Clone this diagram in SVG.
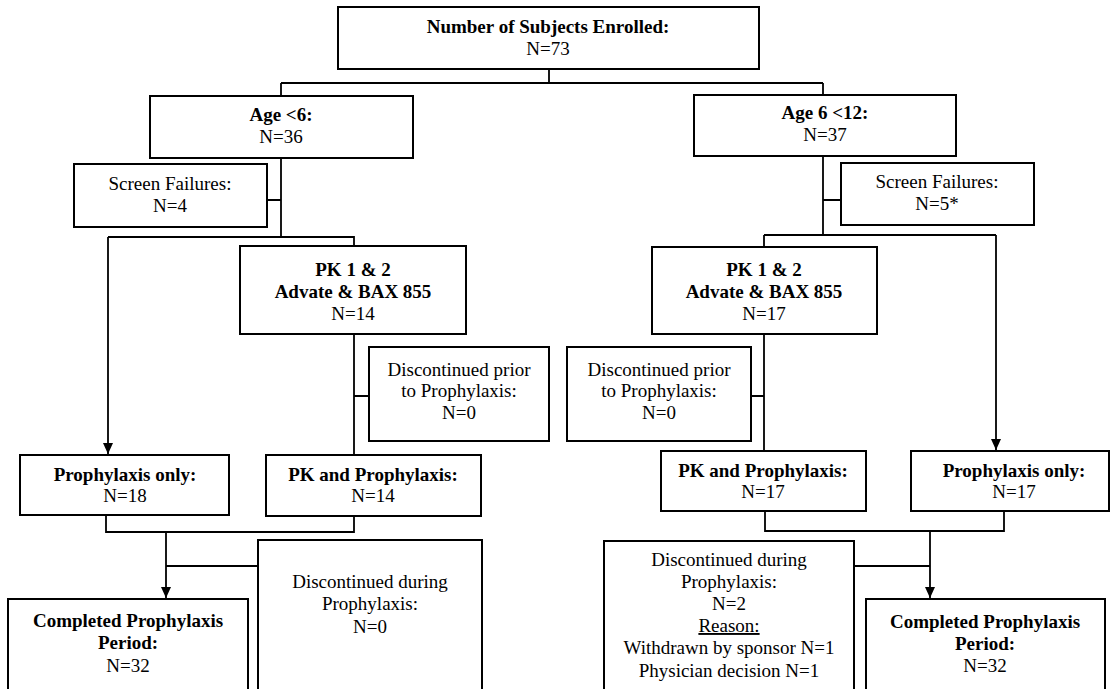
<svg xmlns="http://www.w3.org/2000/svg" width="1110" height="689" viewBox="0 0 1110 689">
<style>
.box{fill:#fff;stroke:#000;stroke-width:2}
.ln{fill:none;stroke:#000;stroke-width:1.8}
text{font-family:"Liberation Serif","Times New Roman",serif;font-size:19px;fill:#000;text-anchor:middle}
.b{font-weight:bold}
</style>
<defs>
<marker id="ah" viewBox="0 0 11 10" refX="11" refY="5" markerWidth="11" markerHeight="10" markerUnits="userSpaceOnUse" orient="auto">
<path d="M0,0 L11,5 L0,10 z" fill="#000"/>
</marker>
</defs>
<rect width="1110" height="689" fill="#fff"/>
<g id="connectors">
<path class="ln" d="M549,69 V83 M281,83 H823 M281,83 V96 M823,83 V95"/>
<path class="ln" d="M281,158 V237 M267,200 H281 M108,237 H354 V246"/>
<path class="ln" d="M108,237 V454" marker-end="url(#ah)"/>
<path class="ln" d="M823,156 V235 M823,200 H841 M764,235 H996"/>
<path class="ln" d="M764,235 V247"/>
<path class="ln" d="M996,235 V450" marker-end="url(#ah)"/>
<path class="ln" d="M354,334 V455 M354,396 H369"/>
<path class="ln" d="M764,334 V451 M751,396 H764"/>
<path class="ln" d="M106,515 V532 H354 V516"/>
<path class="ln" d="M166,532 V598" marker-end="url(#ah)"/>
<path class="ln" d="M166,566 H258"/>
<path class="ln" d="M765,511 V531 H1004 V511"/>
<path class="ln" d="M930,531 V598" marker-end="url(#ah)"/>
<path class="ln" d="M854,566 H930"/>
</g>
<g id="enrolled">
<rect class="box" x="338" y="7" width="421" height="62"/>
<text x="548" y="33" class="b">Number of Subjects Enrolled:</text>
<text x="548" y="55">N=73</text>
</g>
<g id="age-lt6">
<rect class="box" x="150" y="96" width="263" height="62"/>
<text x="281" y="121" class="b">Age &lt;6:</text>
<text x="281" y="143">N=36</text>
</g>
<g id="age-6-12">
<rect class="box" x="694" y="95" width="262" height="61"/>
<text x="825" y="119" class="b">Age 6 &lt;12:</text>
<text x="825" y="141">N=37</text>
</g>
<g id="screen-fail-left">
<rect class="box" x="74" y="164" width="193" height="63"/>
<text x="170" y="190">Screen Failures:</text>
<text x="170" y="212">N=4</text>
</g>
<g id="screen-fail-right">
<rect class="box" x="841" y="163" width="193" height="62"/>
<text x="937" y="188">Screen Failures:</text>
<text x="937" y="210">N=5*</text>
</g>
<g id="pk-left">
<rect class="box" x="240" y="246" width="226" height="88"/>
<text x="353" y="276" class="b">PK 1 &amp; 2</text>
<text x="353" y="298" class="b">Advate &amp; BAX 855</text>
<text x="353" y="320">N=14</text>
</g>
<g id="pk-right">
<rect class="box" x="652" y="247" width="225" height="87"/>
<text x="764" y="276" class="b">PK 1 &amp; 2</text>
<text x="764" y="298" class="b">Advate &amp; BAX 855</text>
<text x="764" y="320">N=17</text>
</g>
<g id="disc-prior-left">
<rect class="box" x="369" y="347" width="180" height="94"/>
<text x="459" y="376">Discontinued prior</text>
<text x="459" y="397">to Prophylaxis:</text>
<text x="459" y="419">N=0</text>
</g>
<g id="disc-prior-right">
<rect class="box" x="567" y="347" width="184" height="94"/>
<text x="659" y="376">Discontinued prior</text>
<text x="659" y="397">to Prophylaxis:</text>
<text x="659" y="419">N=0</text>
</g>
<g id="proph-only-left">
<rect class="box" x="20" y="455" width="209" height="60"/>
<text x="125" y="481" class="b">Prophylaxis only:</text>
<text x="125" y="502">N=18</text>
</g>
<g id="pk-proph-left">
<rect class="box" x="266" y="455" width="215" height="61"/>
<text x="373" y="481" class="b">PK and Prophylaxis:</text>
<text x="373" y="502">N=14</text>
</g>
<g id="pk-proph-right">
<rect class="box" x="661" y="451" width="205" height="60"/>
<text x="763" y="477" class="b">PK and Prophylaxis:</text>
<text x="763" y="498">N=17</text>
</g>
<g id="proph-only-right">
<rect class="box" x="911" y="451" width="198" height="60"/>
<text x="1014" y="477" class="b">Prophylaxis only:</text>
<text x="1014" y="498">N=17</text>
</g>
<g id="completed-left">
<rect class="box" x="8" y="599" width="240" height="100"/>
<text x="128" y="627" class="b">Completed Prophylaxis</text>
<text x="128" y="649" class="b">Period:</text>
<text x="128" y="672">N=32</text>
</g>
<g id="disc-during-left">
<rect class="box" x="258" y="540" width="224" height="160"/>
<text x="370" y="588">Discontinued during</text>
<text x="370" y="610">Prophylaxis:</text>
<text x="370" y="633">N=0</text>
</g>
<g id="disc-during-right">
<rect class="box" x="604" y="541" width="250" height="160"/>
<text x="729" y="566">Discontinued during</text>
<text x="729" y="588">Prophylaxis:</text>
<text x="729" y="610">N=2</text>
<text x="729" y="632" text-decoration="underline">Reason:</text>
<text x="729" y="654">Withdrawn by sponsor N=1</text>
<text x="729" y="677">Physician decision N=1</text>
</g>
<g id="completed-right">
<rect class="box" x="866" y="599" width="239" height="100"/>
<text x="985" y="628" class="b">Completed Prophylaxis</text>
<text x="985" y="650" class="b">Period:</text>
<text x="985" y="672">N=32</text>
</g>
</svg>
